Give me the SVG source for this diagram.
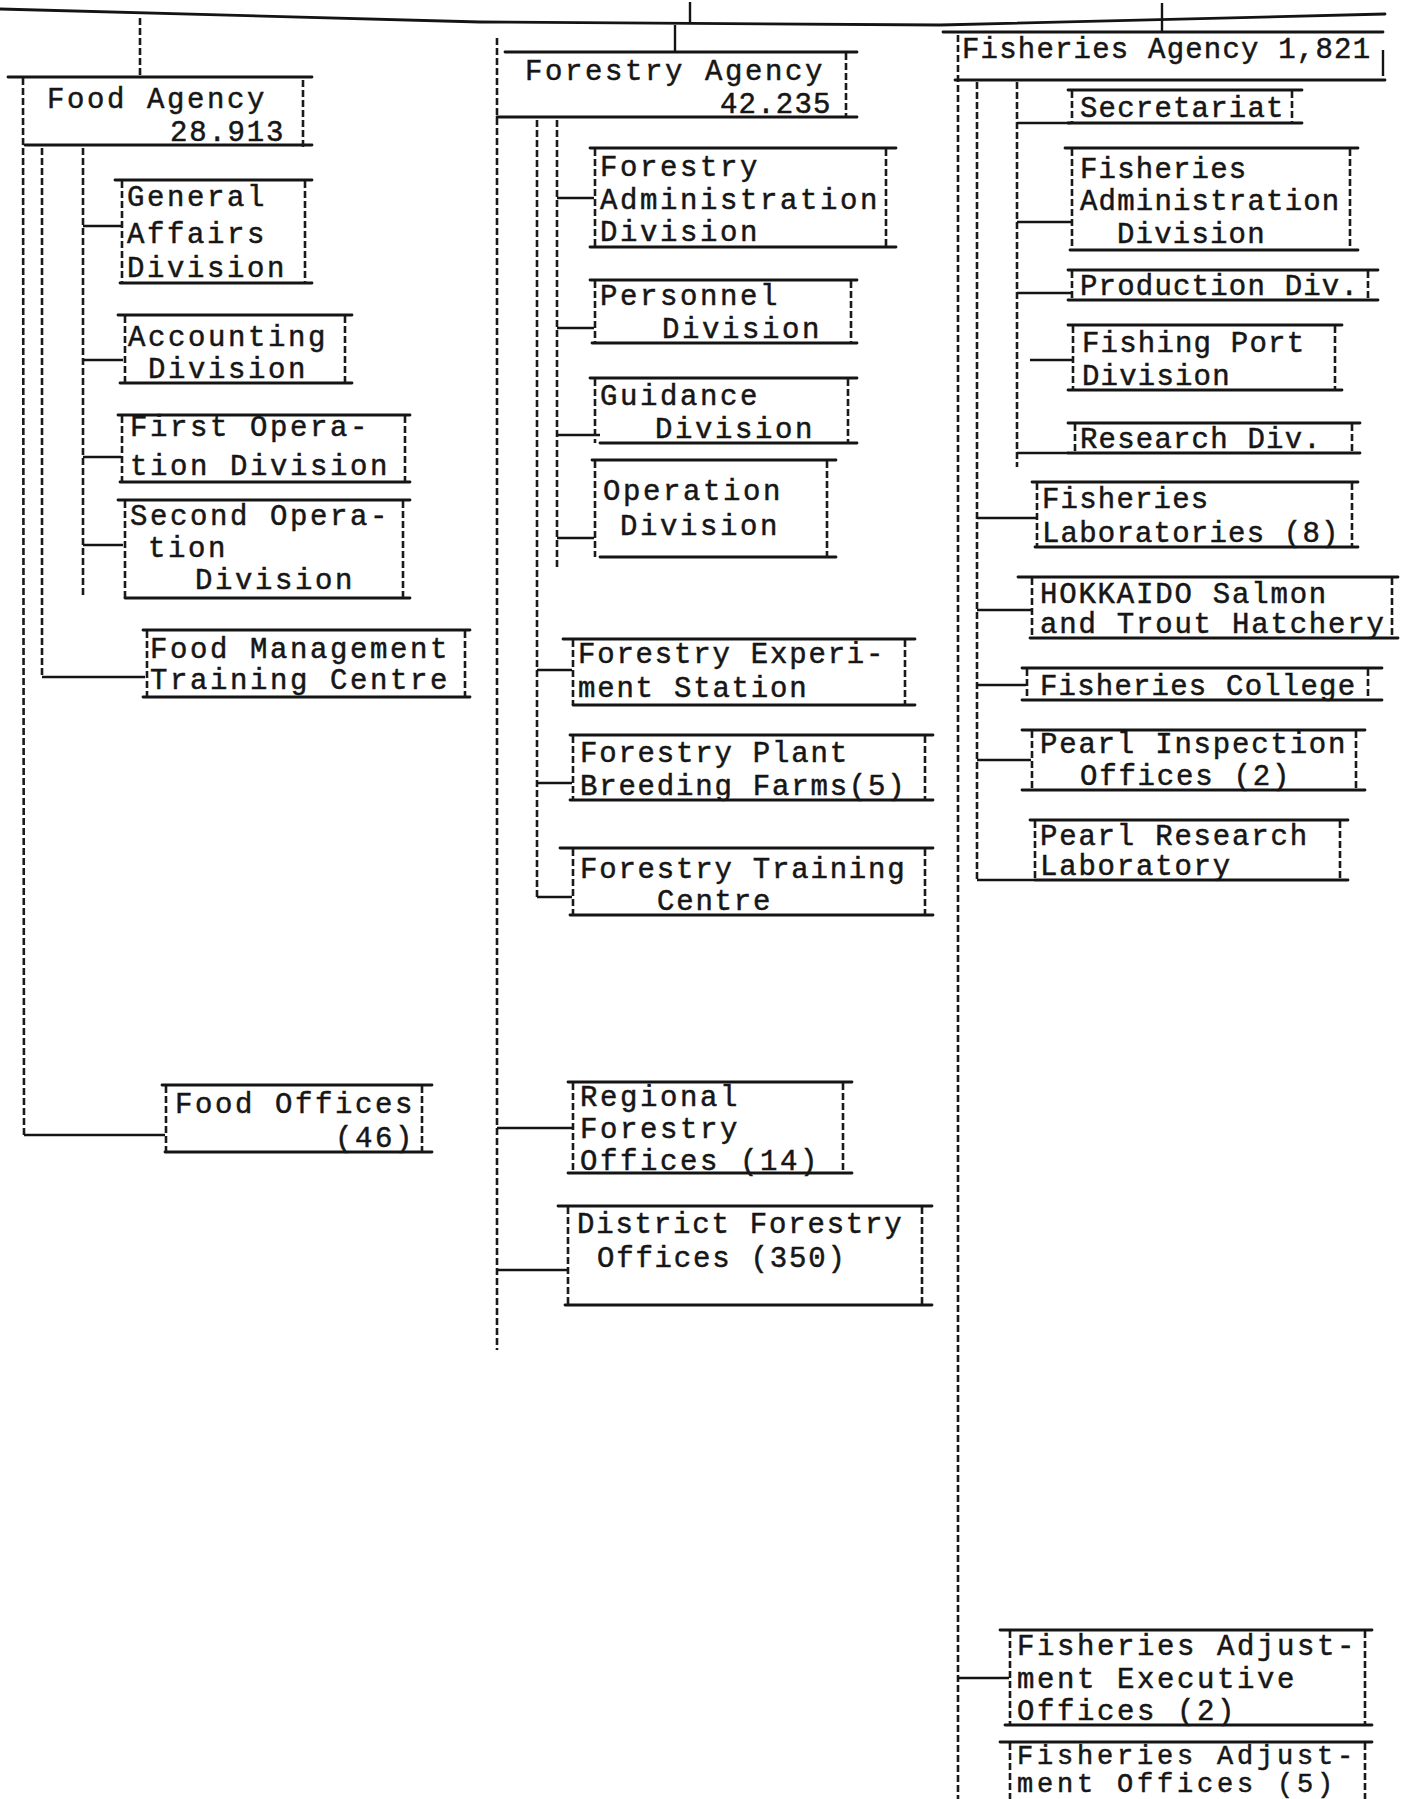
<svg xmlns="http://www.w3.org/2000/svg" width="1401" height="1799" viewBox="0 0 1401 1799">
<style>
.bg{fill:#ffffff}
.h{stroke:#141414;stroke-width:2.8;fill:none;stroke-linecap:round}
.v{stroke:#1a1a1a;stroke-width:2.6;fill:none;stroke-dasharray:7 3}
.c{stroke:#141414;stroke-width:2.4;fill:none}
text{font-family:"Liberation Mono","Courier New",monospace;font-size:29px;fill:#161616;stroke:#161616;stroke-width:0.5}
.w20{letter-spacing:2.6px}
.w19{letter-spacing:1.8px}
.w18{letter-spacing:1.2px}
.sm{font-size:27px;letter-spacing:3.8px}
</style>
<rect class="bg" x="0" y="0" width="1401" height="1799"/>

<g id="connectors">
  <polyline class="h" points="0,9 480,22 940,25 1385,14"/>
  <line class="v" x1="140" y1="18" x2="140" y2="77"/>
  <line class="c" x1="690" y1="2" x2="690" y2="24"/>
  <line class="c" x1="675" y1="25" x2="675" y2="52"/>
  <line class="c" x1="1162" y1="3" x2="1162" y2="31"/>
  <polyline class="v" points="23,78 24,1135"/>
  <line class="c" x1="24" y1="1135" x2="165" y2="1135"/>
  <line class="v" x1="42" y1="148" x2="42" y2="677"/>
  <line class="c" x1="42" y1="677" x2="145" y2="677"/>
  <line class="v" x1="83" y1="148" x2="83" y2="597"/>
  <line class="c" x1="83" y1="226" x2="121" y2="226"/>
  <line class="c" x1="83" y1="360" x2="123" y2="360"/>
  <line class="c" x1="83" y1="457" x2="121" y2="457"/>
  <line class="c" x1="83" y1="545" x2="123" y2="545"/>
  <line class="v" x1="497" y1="38" x2="497" y2="1350"/>
  <line class="v" x1="537" y1="120" x2="537" y2="897"/>
  <line class="v" x1="557" y1="120" x2="557" y2="570"/>
  <line class="c" x1="557" y1="198" x2="594" y2="198"/>
  <line class="c" x1="557" y1="328" x2="594" y2="328"/>
  <line class="c" x1="557" y1="435" x2="600" y2="435"/>
  <line class="c" x1="557" y1="538" x2="594" y2="538"/>
  <line class="c" x1="537" y1="670" x2="572" y2="670"/>
  <line class="c" x1="537" y1="783" x2="572" y2="783"/>
  <line class="c" x1="537" y1="897" x2="572" y2="897"/>
  <line class="c" x1="497" y1="1128" x2="572" y2="1128"/>
  <line class="c" x1="497" y1="1270" x2="567" y2="1270"/>
  <line class="v" x1="958" y1="35" x2="958" y2="1799"/>
  <line class="v" x1="977" y1="82" x2="977" y2="880"/>
  <line class="v" x1="1017" y1="82" x2="1017" y2="467"/>
  <line class="c" x1="1017" y1="123" x2="1071" y2="123"/>
  <line class="c" x1="1017" y1="222" x2="1071" y2="222"/>
  <line class="c" x1="1017" y1="293" x2="1071" y2="293"/>
  <line class="c" x1="1030" y1="360" x2="1072" y2="360"/>
  <line class="c" x1="1017" y1="453" x2="1068" y2="453"/>
  <line class="c" x1="977" y1="518" x2="1036" y2="518"/>
  <line class="c" x1="977" y1="610" x2="1031" y2="610"/>
  <line class="c" x1="977" y1="685" x2="1026" y2="685"/>
  <line class="c" x1="977" y1="760" x2="1031" y2="760"/>
  <line class="c" x1="977" y1="880" x2="1035" y2="880"/>
  <line class="c" x1="958" y1="1678" x2="1009" y2="1678"/>
</g>

<g id="food-agency">
  <line class="h" x1="8" y1="77" x2="312" y2="77"/>
  <line class="h" x1="25" y1="145" x2="312" y2="145"/>
  <line class="v" x1="303" y1="80" x2="303" y2="148"/>
  <text class="w20" x="47" y="108">Food Agency</text>
  <text class="w19" x="170" y="141">28.913</text>
</g>
<g id="general-affairs">
  <line class="h" x1="115" y1="180" x2="312" y2="180"/>
  <line class="h" x1="120" y1="283" x2="312" y2="283"/>
  <line class="v" x1="122" y1="181" x2="122" y2="283"/>
  <line class="v" x1="305" y1="181" x2="305" y2="283"/>
  <text class="w20" x="127" y="206">General</text>
  <text class="w20" x="127" y="243">Affairs</text>
  <text class="w20" x="127" y="277">Division</text>
</g>
<g id="accounting">
  <line class="h" x1="118" y1="315" x2="352" y2="315"/>
  <line class="h" x1="120" y1="383" x2="352" y2="383"/>
  <line class="v" x1="125" y1="316" x2="125" y2="383"/>
  <line class="v" x1="345" y1="316" x2="345" y2="383"/>
  <text class="w20" x="128" y="346">Accounting</text>
  <text class="w20" x="148" y="378">Division</text>
</g>
<g id="first-operation">
  <line class="h" x1="118" y1="415" x2="410" y2="415"/>
  <line class="h" x1="120" y1="482" x2="410" y2="482"/>
  <line class="v" x1="122" y1="416" x2="122" y2="482"/>
  <line class="v" x1="405" y1="416" x2="405" y2="482"/>
  <text class="w20" x="130" y="436">First Opera-</text>
  <text class="w20" x="130" y="475">tion Division</text>
</g>
<g id="second-operation">
  <line class="h" x1="118" y1="500" x2="410" y2="500"/>
  <line class="h" x1="125" y1="598" x2="410" y2="598"/>
  <line class="v" x1="125" y1="501" x2="125" y2="598"/>
  <line class="v" x1="403" y1="501" x2="403" y2="598"/>
  <text class="w20" x="130" y="525">Second Opera-</text>
  <text class="w20" x="148" y="557">tion</text>
  <text class="w20" x="195" y="589">Division</text>
</g>
<g id="food-management">
  <line class="h" x1="143" y1="630" x2="470" y2="630"/>
  <line class="h" x1="143" y1="697" x2="470" y2="697"/>
  <line class="v" x1="147" y1="631" x2="147" y2="697"/>
  <line class="v" x1="465" y1="631" x2="465" y2="697"/>
  <text class="w20" x="150" y="658">Food Management</text>
  <text class="w20" x="150" y="689">Training Centre</text>
</g>
<g id="food-offices">
  <line class="h" x1="162" y1="1085" x2="432" y2="1085"/>
  <line class="h" x1="165" y1="1152" x2="432" y2="1152"/>
  <line class="v" x1="166" y1="1086" x2="166" y2="1152"/>
  <line class="v" x1="422" y1="1086" x2="422" y2="1152"/>
  <text class="w20" x="175" y="1113">Food Offices</text>
  <text class="w20" x="335" y="1147">(46)</text>
</g>

<g id="forestry-agency">
  <line class="h" x1="505" y1="52" x2="857" y2="52"/>
  <line class="h" x1="497" y1="117" x2="857" y2="117"/>
  <line class="v" x1="846" y1="53" x2="846" y2="117"/>
  <text class="w20" x="525" y="80">Forestry Agency</text>
  <text class="w18" x="720" y="113">42.235</text>
</g>
<g id="forestry-administration">
  <line class="h" x1="590" y1="148" x2="896" y2="148"/>
  <line class="h" x1="590" y1="247" x2="896" y2="247"/>
  <line class="v" x1="595" y1="149" x2="595" y2="247"/>
  <line class="v" x1="886" y1="149" x2="886" y2="247"/>
  <text class="w20" x="600" y="176">Forestry</text>
  <text class="w20" x="600" y="209">Administration</text>
  <text class="w20" x="600" y="241">Division</text>
</g>
<g id="personnel">
  <line class="h" x1="590" y1="280" x2="857" y2="280"/>
  <line class="h" x1="592" y1="343" x2="857" y2="343"/>
  <line class="v" x1="595" y1="281" x2="595" y2="343"/>
  <line class="v" x1="851" y1="281" x2="851" y2="343"/>
  <text class="w20" x="600" y="305">Personnel</text>
  <text class="w20" x="662" y="338">Division</text>
</g>
<g id="guidance">
  <line class="h" x1="590" y1="378" x2="857" y2="378"/>
  <line class="h" x1="600" y1="443" x2="857" y2="443"/>
  <line class="v" x1="595" y1="379" x2="595" y2="443"/>
  <line class="v" x1="848" y1="379" x2="848" y2="443"/>
  <text class="w20" x="600" y="405">Guidance</text>
  <text class="w20" x="655" y="438">Division</text>
</g>
<g id="operation">
  <line class="h" x1="592" y1="460" x2="836" y2="460"/>
  <line class="h" x1="600" y1="557" x2="836" y2="557"/>
  <line class="v" x1="595" y1="461" x2="595" y2="557"/>
  <line class="v" x1="827" y1="461" x2="827" y2="557"/>
  <text class="w20" x="603" y="500">Operation</text>
  <text class="w20" x="620" y="535">Division</text>
</g>
<g id="forestry-experiment">
  <line class="h" x1="563" y1="639" x2="915" y2="639"/>
  <line class="h" x1="573" y1="705" x2="915" y2="705"/>
  <line class="v" x1="573" y1="640" x2="573" y2="705"/>
  <line class="v" x1="905" y1="640" x2="905" y2="705"/>
  <text class="w19" x="578" y="663">Forestry Experi-</text>
  <text class="w19" x="578" y="697">ment Station</text>
</g>
<g id="plant-breeding">
  <line class="h" x1="570" y1="735" x2="933" y2="735"/>
  <line class="h" x1="570" y1="800" x2="933" y2="800"/>
  <line class="v" x1="573" y1="736" x2="573" y2="800"/>
  <line class="v" x1="925" y1="736" x2="925" y2="800"/>
  <text class="w19" x="580" y="762">Forestry Plant</text>
  <text class="w19" x="580" y="795">Breeding Farms(5)</text>
</g>
<g id="forestry-training">
  <line class="h" x1="560" y1="848" x2="933" y2="848"/>
  <line class="h" x1="570" y1="915" x2="933" y2="915"/>
  <line class="v" x1="573" y1="849" x2="573" y2="915"/>
  <line class="v" x1="925" y1="849" x2="925" y2="915"/>
  <text class="w19" x="580" y="878">Forestry Training</text>
  <text class="w19" x="657" y="910">Centre</text>
</g>
<g id="regional-forestry">
  <line class="h" x1="568" y1="1082" x2="852" y2="1082"/>
  <line class="h" x1="568" y1="1173" x2="852" y2="1173"/>
  <line class="v" x1="573" y1="1083" x2="573" y2="1173"/>
  <line class="v" x1="843" y1="1083" x2="843" y2="1173"/>
  <text class="w20" x="580" y="1106">Regional</text>
  <text class="w20" x="580" y="1138">Forestry</text>
  <text class="w20" x="580" y="1170">Offices (14)</text>
</g>
<g id="district-forestry">
  <line class="h" x1="558" y1="1206" x2="932" y2="1206"/>
  <line class="h" x1="565" y1="1305" x2="932" y2="1305"/>
  <line class="v" x1="568" y1="1207" x2="568" y2="1305"/>
  <line class="v" x1="922" y1="1207" x2="922" y2="1305"/>
  <text class="w19" x="577" y="1233">District Forestry</text>
  <text class="w19" x="597" y="1267">Offices (350)</text>
</g>

<g id="fisheries-agency">
  <line class="h" x1="943" y1="32" x2="1383" y2="32"/>
  <line class="h" x1="955" y1="80" x2="1385" y2="80"/>
  <line class="c" x1="1383" y1="50" x2="1383" y2="76"/>
  <text class="w18" x="962" y="58">Fisheries Agency 1,821</text>
</g>
<g id="secretariat">
  <line class="h" x1="1068" y1="90" x2="1302" y2="90"/>
  <line class="h" x1="1068" y1="123" x2="1302" y2="123"/>
  <line class="v" x1="1072" y1="91" x2="1072" y2="123"/>
  <line class="v" x1="1292" y1="91" x2="1292" y2="123"/>
  <text class="w18" x="1080" y="117">Secretariat</text>
</g>
<g id="fisheries-administration">
  <line class="h" x1="1065" y1="148" x2="1358" y2="148"/>
  <line class="h" x1="1070" y1="250" x2="1358" y2="250"/>
  <line class="v" x1="1072" y1="149" x2="1072" y2="250"/>
  <line class="v" x1="1350" y1="149" x2="1350" y2="250"/>
  <text class="w18" x="1080" y="178">Fisheries</text>
  <text class="w18" x="1080" y="210">Administration</text>
  <text class="w18" x="1117" y="243">Division</text>
</g>
<g id="production">
  <line class="h" x1="1068" y1="270" x2="1378" y2="270"/>
  <line class="h" x1="1068" y1="300" x2="1378" y2="300"/>
  <line class="v" x1="1072" y1="271" x2="1072" y2="300"/>
  <line class="v" x1="1368" y1="271" x2="1368" y2="300"/>
  <text class="w18" x="1080" y="295">Production Div.</text>
</g>
<g id="fishing-port">
  <line class="h" x1="1068" y1="325" x2="1342" y2="325"/>
  <line class="h" x1="1068" y1="390" x2="1342" y2="390"/>
  <line class="v" x1="1073" y1="326" x2="1073" y2="390"/>
  <line class="v" x1="1335" y1="326" x2="1335" y2="390"/>
  <text class="w18" x="1082" y="352">Fishing Port</text>
  <text class="w18" x="1082" y="385">Division</text>
</g>
<g id="research">
  <line class="h" x1="1068" y1="423" x2="1360" y2="423"/>
  <line class="h" x1="1068" y1="453" x2="1360" y2="453"/>
  <line class="v" x1="1075" y1="424" x2="1075" y2="453"/>
  <line class="v" x1="1352" y1="424" x2="1352" y2="453"/>
  <text class="w18" x="1080" y="448">Research Div.</text>
</g>
<g id="fisheries-laboratories">
  <line class="h" x1="1032" y1="482" x2="1358" y2="482"/>
  <line class="h" x1="1035" y1="547" x2="1358" y2="547"/>
  <line class="v" x1="1037" y1="483" x2="1037" y2="547"/>
  <line class="v" x1="1352" y1="483" x2="1352" y2="547"/>
  <text class="w18" x="1042" y="508">Fisheries</text>
  <text class="w18" x="1042" y="542">Laboratories (8)</text>
</g>
<g id="hokkaido-hatchery">
  <line class="h" x1="1018" y1="577" x2="1398" y2="577"/>
  <line class="h" x1="1030" y1="638" x2="1398" y2="638"/>
  <line class="v" x1="1032" y1="578" x2="1032" y2="638"/>
  <line class="v" x1="1392" y1="578" x2="1392" y2="638"/>
  <text class="w19" x="1040" y="603">HOKKAIDO Salmon</text>
  <text class="w19" x="1040" y="633">and Trout Hatchery</text>
</g>
<g id="fisheries-college">
  <line class="h" x1="1022" y1="668" x2="1382" y2="668"/>
  <line class="h" x1="1022" y1="700" x2="1382" y2="700"/>
  <line class="v" x1="1027" y1="669" x2="1027" y2="700"/>
  <line class="v" x1="1368" y1="669" x2="1368" y2="700"/>
  <text class="w18" x="1040" y="695">Fisheries College</text>
</g>
<g id="pearl-inspection">
  <line class="h" x1="1022" y1="730" x2="1365" y2="730"/>
  <line class="h" x1="1022" y1="790" x2="1365" y2="790"/>
  <line class="v" x1="1032" y1="731" x2="1032" y2="790"/>
  <line class="v" x1="1356" y1="731" x2="1356" y2="790"/>
  <text class="w19" x="1040" y="753">Pearl Inspection</text>
  <text class="w19" x="1080" y="785">Offices (2)</text>
</g>
<g id="pearl-research">
  <line class="h" x1="1030" y1="820" x2="1348" y2="820"/>
  <line class="h" x1="1035" y1="880" x2="1348" y2="880"/>
  <line class="v" x1="1035" y1="821" x2="1035" y2="880"/>
  <line class="v" x1="1340" y1="821" x2="1340" y2="880"/>
  <text class="w19" x="1040" y="845">Pearl Research</text>
  <text class="w19" x="1040" y="875">Laboratory</text>
</g>
<g id="adjustment-executive">
  <line class="h" x1="1000" y1="1630" x2="1372" y2="1630"/>
  <line class="h" x1="1005" y1="1725" x2="1372" y2="1725"/>
  <line class="v" x1="1010" y1="1631" x2="1010" y2="1725"/>
  <line class="v" x1="1365" y1="1631" x2="1365" y2="1725"/>
  <text class="w20" x="1017" y="1655">Fisheries Adjust-</text>
  <text class="w20" x="1017" y="1688">ment Executive</text>
  <text class="w20" x="1017" y="1720">Offices (2)</text>
</g>
<g id="adjustment-offices">
  <line class="h" x1="1000" y1="1742" x2="1372" y2="1742"/>
  <line class="v" x1="1010" y1="1743" x2="1010" y2="1799"/>
  <line class="v" x1="1365" y1="1743" x2="1365" y2="1799"/>
  <text class="sm" x="1017" y="1764">Fisheries Adjust-</text>
  <text class="sm" x="1017" y="1792">ment Offices (5)</text>
</g>
</svg>
